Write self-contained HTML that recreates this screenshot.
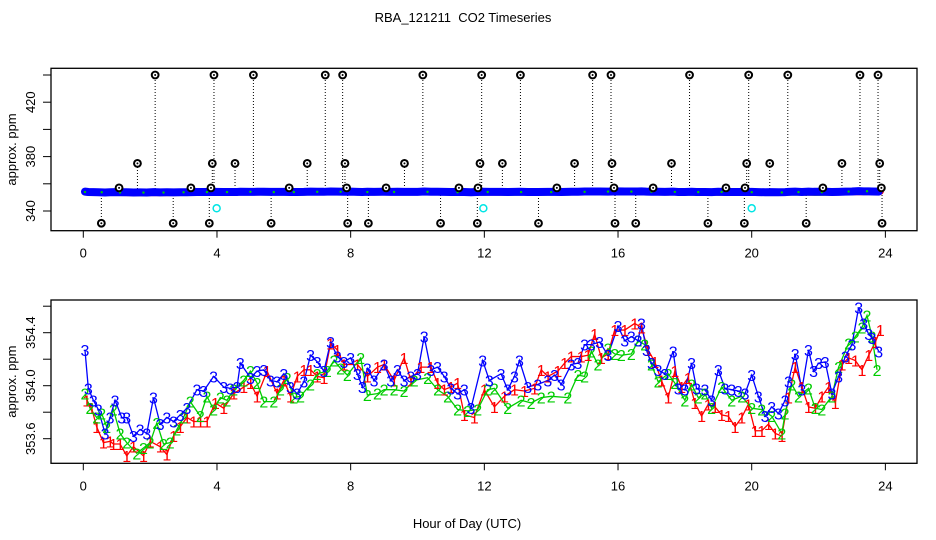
<!DOCTYPE html>
<html><head><meta charset="utf-8"><style>
html,body{margin:0;padding:0;background:#fff}
svg{display:block}
text{font-family:"Liberation Sans",sans-serif;}
</style></head><body>
<svg id="c" width="936" height="540" viewBox="0 0 936 540">
<rect width="936" height="540" fill="#fff"/>
<text x="463" y="22" font-size="13" text-anchor="middle">RBA_121211&#160; CO2 Timeseries</text>
<text x="467" y="528" font-size="13" text-anchor="middle">Hour of Day (UTC)</text>
<g id="topPanel"></g>
<g id="botPanel"></g>
</svg>
<script>
// ---- Data ----
const hours3 = [0.05,0.15,0.3,0.45,0.65,0.8,0.95,1.15,1.3,1.5,1.7,1.9,2.1,2.3,2.5,2.7,2.9,3.1,3.4,3.6,3.9,4.2,4.4,4.6,4.7,5.0,5.2,5.4,5.6,5.8,6.0,6.2,6.4,6.6,6.8,7.0,7.2,7.4,7.6,7.8,8.0,8.2,8.35,8.5,8.7,9.0,9.2,9.4,9.6,9.8,10.0,10.2,10.4,10.6,10.8,11.0,11.2,11.4,11.6,11.95,12.15,12.5,12.7,12.9,13.05,13.3,13.6,13.9,14.1,14.3,14.6,14.8,15.0,15.2,15.45,15.7,16.0,16.2,16.4,16.6,16.7,16.85,17.0,17.2,17.4,17.65,17.8,18.0,18.2,18.35,18.6,18.8,19.0,19.2,19.4,19.6,19.8,20.0,20.2,20.4,20.6,20.8,21.0,21.1,21.3,21.5,21.7,21.85,22.0,22.2,22.4,22.6,22.8,23.0,23.2,23.35,23.5,23.6,23.8];
const values3 = [354.27,353.98,353.89,353.82,353.64,353.76,353.89,353.76,353.76,353.62,353.67,353.64,353.91,353.71,353.76,353.73,353.78,353.83,353.97,353.96,354.07,353.99,353.98,353.99,354.17,354.06,354.11,354.12,354.04,354.03,354.09,353.99,353.94,354.03,354.23,354.18,354.11,354.33,354.22,354.18,354.21,354.09,353.99,354.13,354.04,354.16,354.04,354.12,354.04,354.07,354.09,354.37,354.12,354.14,354.07,353.98,353.94,353.97,353.83,354.19,354.04,354.09,353.97,354.07,354.19,353.99,354.01,354.04,354.08,354.01,354.16,354.17,354.31,354.31,354.33,354.23,354.45,354.34,354.37,354.34,354.47,354.27,354.17,354.12,354.09,354.26,353.98,353.97,354.17,353.98,353.97,353.89,354.12,353.98,353.97,353.96,353.94,354.08,353.92,353.77,353.84,353.79,353.89,354.03,354.24,353.97,354.27,354.11,354.17,354.18,353.94,354.07,354.22,354.31,354.59,354.47,354.39,354.36,354.26];
const hours2 = [0.05,0.2,0.4,0.55,0.7,0.9,1.1,1.3,1.6,1.8,2.0,2.2,2.4,2.6,2.8,3.0,3.2,3.5,3.7,3.9,4.1,4.3,4.5,4.8,5.0,5.2,5.4,5.7,5.9,6.1,6.3,6.5,6.8,7.0,7.3,7.5,7.7,7.9,8.3,8.5,8.8,9.0,9.3,9.6,9.9,10.3,10.6,10.9,11.2,11.5,11.8,12.1,12.3,12.7,13.1,13.4,13.7,14.0,14.5,14.8,15.0,15.2,15.4,15.7,15.9,16.1,16.4,16.6,16.8,17.0,17.2,17.5,17.7,18.0,18.2,18.4,18.6,18.8,19.1,19.4,19.7,20.0,20.3,20.6,20.9,21.0,21.2,21.4,21.7,21.9,22.1,22.4,22.6,22.9,23.1,23.3,23.45,23.6,23.75];
const values2 = [353.94,353.83,353.76,353.79,353.69,353.82,353.64,353.57,353.49,353.53,353.57,353.72,353.56,353.57,353.67,353.76,353.88,353.77,353.92,353.82,353.91,353.89,353.97,354.04,354.11,354.02,353.88,353.88,353.97,354.06,353.91,353.92,354.01,354.09,354.11,354.19,354.13,354.08,354.21,353.93,353.94,353.97,353.97,353.96,354.04,354.06,353.97,353.92,353.82,353.81,353.82,353.97,353.98,353.83,353.89,353.87,353.91,353.92,353.91,354.08,354.07,354.26,354.16,354.28,354.24,354.23,354.24,354.34,354.31,354.16,354.03,354.09,354.02,353.89,354.01,353.91,353.94,353.83,353.99,353.89,353.92,353.83,353.82,353.77,353.64,353.79,354.01,353.92,353.98,353.83,353.82,353.92,354.14,354.32,354.37,354.44,354.53,354.37,354.12];
const hours1 = [0.1,0.25,0.4,0.6,0.8,0.9,1.1,1.3,1.5,1.8,2.0,2.3,2.5,2.7,2.9,3.1,3.3,3.5,3.7,3.95,4.2,4.5,4.8,5.0,5.2,5.5,5.8,6.0,6.2,6.4,6.6,6.8,7.0,7.2,7.4,7.6,7.8,8.2,8.5,8.8,9.0,9.3,9.6,9.8,10.1,10.4,10.6,10.8,11.0,11.2,11.4,11.7,12.0,12.3,12.6,12.9,13.2,13.5,13.7,13.9,14.2,14.4,14.6,14.9,15.1,15.3,15.5,15.7,15.9,16.2,16.5,16.7,16.9,17.1,17.3,17.5,17.7,17.9,18.1,18.3,18.5,18.7,18.9,19.1,19.3,19.5,19.7,19.9,20.1,20.3,20.5,20.7,20.9,21.1,21.3,21.5,21.7,21.9,22.1,22.3,22.5,22.7,22.9,23.1,23.3,23.5,23.7,23.85];
const values1 = [353.89,353.83,353.69,353.57,353.58,353.56,353.56,353.47,353.54,353.47,353.58,353.54,353.48,353.62,353.69,353.76,353.73,353.73,353.73,353.87,353.83,353.94,353.99,354.02,353.92,354.11,353.94,354.04,353.92,354.07,354.12,354.12,354.07,354.06,354.32,354.27,354.16,354.16,354.07,354.14,354.16,354.04,354.21,354.04,354.14,354.14,354.02,353.97,353.99,354.02,353.78,353.76,353.97,353.84,353.92,353.97,353.96,353.98,354.12,354.07,354.11,354.17,354.22,354.22,354.23,354.39,354.21,354.24,354.42,354.42,354.47,354.44,354.27,354.18,354.04,353.91,354.11,353.99,354.06,353.87,353.77,353.86,353.84,353.78,353.77,353.69,353.76,353.86,353.66,353.66,353.71,353.64,353.62,353.91,354.14,353.99,353.84,353.83,353.92,353.99,353.87,354.16,354.21,354.19,354.12,354.23,354.33,354.42];
const outHours = [2.15,3.91,5.09,7.24,7.76,10.16,11.92,13.08,15.24,15.79,18.14,19.91,21.08,23.24,23.78, 1.62,3.86,4.54,6.70,7.83,9.61,11.87,12.54,14.70,15.82,17.6,19.85,20.54,22.70,23.83, 1.07,3.22,3.82,6.16,7.88,9.06,11.24,11.81,14.17,15.88,17.05,19.23,19.80,22.13,23.88, 0.54,2.69,3.77,5.62,7.91,8.53,10.69,11.79,13.62,15.91,16.53,18.69,19.78,21.63,23.90];
const outValues = [440,440,440,440,440,440,440,440,440,440,440,440,440,440,440, 375,375,375,375,375,375,375,375,375,375,375,375,375,375,375, 357,357,357,357,357,357,357,357,357,357,357,357,357,357,357, 331,331,331,331,331,331,331,331,331,331,331,331,331,331,331];
const cyanHours = [3.99,11.97,20.0];
const cyanValues = [342,342,342];
const xTicks = [0,4,8,12,16,20,24];
const topTicks = [340,360,380,400,420,440];
const topLabels = ["340","","380","","420",""];
const botTicks = [353.6,353.8,354.0,354.2,354.4,354.6];
const botLabels = ["353.6","","354.0","","354.4",""];

// ---- Scales ----
const NS="http://www.w3.org/2000/svg";
const X0=83.3, PXH=33.42;
const xs = h => X0 + h*PXH;
const yTop = v => 211 - (v-340)*54.4/40;
const yBot = v => 385.7 - (v-354.0)*132.5;
function mk(parent, tag, attrs){const e=document.createElementNS(NS,tag);for(const k in attrs)e.setAttribute(k,attrs[k]);parent.appendChild(e);return e;}

function frame(g, y0, y1, ticks, labels, ys, nameP){
  const box=mk(g,'rect',{x:51,y:y0,width:866,height:y1-y0,fill:'none',stroke:'#000','stroke-width':1.3});
  
  
  xTicks.forEach(t=>{
    const l=mk(g,'line',{x1:xs(t),x2:xs(t),y1:y1,y2:y1+7,stroke:'#000'});
    
    
    const tx=mk(g,'text',{x:xs(t),y:y1+27,'font-size':13,'text-anchor':'middle'});
    tx.textContent=t;
    
    
  });
  ticks.forEach((t,i)=>{
    const y=ys(t);
    const l=mk(g,'line',{x1:43,x2:51,y1:y,y2:y,stroke:'#000'});
    
    
    if(labels[i]){
      const tx=mk(g,'text',{x:0,y:0,'font-size':13,'text-anchor':'middle',transform:`translate(35,${y}) rotate(-90)`});
      tx.textContent=labels[i];
      
      
    }
  });
  const yt=mk(g,'text',{x:0,y:0,'font-size':13,'text-anchor':'middle',transform:`translate(16,${(y0+y1)/2}) rotate(-90)`});
  yt.textContent='approx. ppm';
  
  
}

// ---- Top panel ----
const topG=document.getElementById('topPanel');
frame(topG,68.3,230.7,topTicks,topLabels,yTop,'top');
outHours.forEach((h,i)=>{
  const l=mk(topG,'line',{x1:xs(h),x2:xs(h),y1:yTop(354),y2:yTop(outValues[i]),stroke:'#000','stroke-width':1,'stroke-dasharray':'1,2'});
  
  
});
[[hours1,values1,'#ff0000'],[hours2,values2,'#00cc00'],[hours3,values3,'#0000ff']].forEach(([hs,vs,c],k)=>{
  const pts=hs.map((h,i)=>xs(h)+','+yTop(vs[i])).join(' ');
  const pl=mk(topG,'polyline',{points:pts,fill:'none',stroke:c,'stroke-width':k==2?8:7,'stroke-linecap':'round'});
  
  
});
hours2.forEach((h,i)=>{ if(i%3) return;
  const d=mk(topG,'circle',{cx:xs(h),cy:yTop(values2[i]),r:1.2,fill:'#00cc00'});
  
  
});
outHours.forEach((h,i)=>{
  const c=mk(topG,'circle',{cx:xs(h),cy:yTop(outValues[i]),r:3.4,fill:'#fff',stroke:'#000','stroke-width':2});
  
  
  const d=mk(topG,'circle',{cx:xs(h),cy:yTop(outValues[i]),r:1,fill:'#000'});
  
  
});
cyanHours.forEach((h,i)=>{
  const c=mk(topG,'circle',{cx:xs(h),cy:yTop(cyanValues[i]),r:3.5,fill:'none',stroke:'#00e5e5','stroke-width':1.5});
  
  
});

// ---- Bottom panel ----
const botG=document.getElementById('botPanel');
frame(botG,300,463.3,botTicks,botLabels,yBot,'bottom');
const seriesList=[[hours1,values1,'#ff0000','1'],[hours2,values2,'#00cc00','2'],[hours3,values3,'#0000ff','3']];
seriesList.forEach(([hs,vs,c,lab])=>{
  const pts=hs.map((h,i)=>xs(h)+','+yBot(vs[i])).join(' ');
  const pl=mk(botG,'polyline',{points:pts,fill:'none',stroke:c,'stroke-width':1.3});
  
  
});
seriesList.forEach(([hs,vs,c,lab])=>{
  hs.forEach((h,i)=>{
    const t=mk(botG,'text',{x:xs(h),y:yBot(vs[i])+6,'font-size':16,'text-anchor':'middle',fill:c});
    t.textContent=lab;
    
    
  });
});
</script>
</body></html>
